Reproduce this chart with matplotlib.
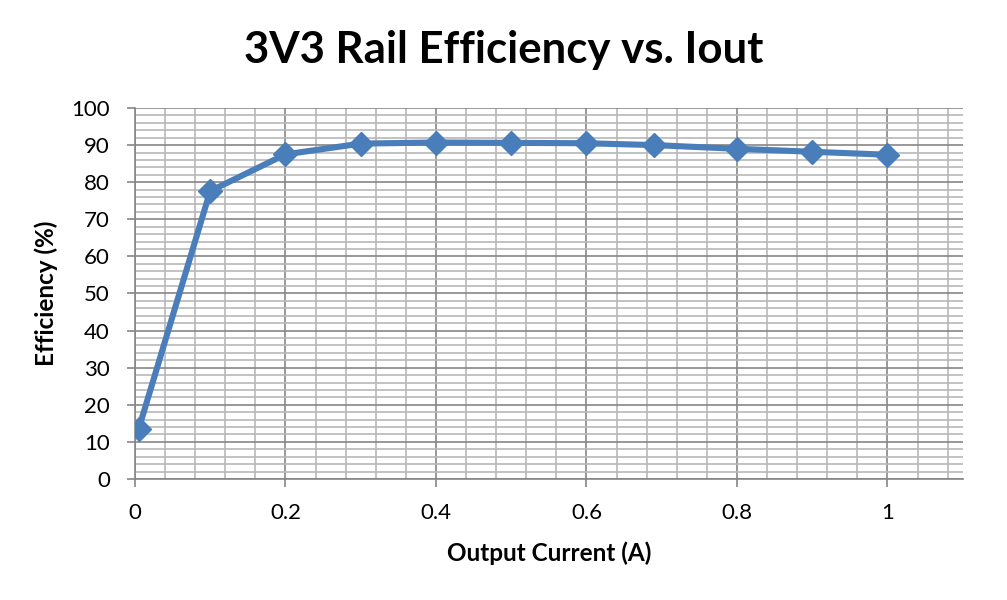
import numpy as np
import matplotlib
matplotlib.use('Agg')
import matplotlib.pyplot as plt
from matplotlib.ticker import MultipleLocator

# measured data
current = [0.005, 0.1, 0.2, 0.3, 0.4, 0.5, 0.6, 0.69, 0.8, 0.9, 1.0]
efficiency = [13.5, 77.6, 87.5, 90.4, 90.7, 90.6, 90.5, 90.0, 89.0, 88.2, 87.4]

plt.rcParams['font.family'] = ['Lato', 'DejaVu Sans']

fig = plt.figure(figsize=(10.07, 6), dpi=100)
ax = fig.add_axes([0.134, 0.2017, 0.822, 0.6183])

ax.plot(current, efficiency, color='#4A7EBB', linewidth=4.4,
        marker='D', markersize=12, markerfacecolor='#4A7EBB',
        markeredgecolor='#4A7EBB', markeredgewidth=1, zorder=3)

ax.set_xlim(0, 1.1)
ax.set_ylim(0, 100)
ax.xaxis.set_minor_locator(MultipleLocator(0.04))
ax.yaxis.set_major_locator(MultipleLocator(10))
ax.yaxis.set_minor_locator(MultipleLocator(2))
ax.set_xticks([0, 0.2, 0.4, 0.6, 0.8, 1.0])
ax.set_xticklabels(['0', '0.2', '0.4', '0.6', '0.8', '1'])

ax.grid(which='major', color='#868686', linewidth=1.2)
ax.grid(which='minor', color='#B8B8B8', linewidth=1.2)
ax.set_axisbelow(True)

for s in ['top', 'right']:
    ax.spines[s].set_visible(False)
for s in ['left', 'bottom']:
    ax.spines[s].set_color('#868686')
    ax.spines[s].set_linewidth(1.2)

ax.tick_params(which='major', direction='out', length=6, color='#868686',
               labelsize=16, width=1.2)
ax.tick_params(axis='y', pad=12)
ax.tick_params(axis='x', pad=11)
ax.tick_params(which='minor', length=0)

fig.text(0.5, 1 - 63 / 600, '3V3 Rail Efficiency vs. Iout', fontsize=31.5,
         fontweight='bold', ha='center', va='baseline')
ax.set_xlabel('Output Current (A)', fontsize=17.5, fontweight='bold', va='baseline')
ax.xaxis.set_label_coords(0.5, -0.221)
ax.set_ylabel('Efficiency (%)', fontsize=17.5, fontweight='bold', va='center')
ax.yaxis.set_label_coords(-0.1075, 0.5)

fig.savefig('out.png', dpi=100)
